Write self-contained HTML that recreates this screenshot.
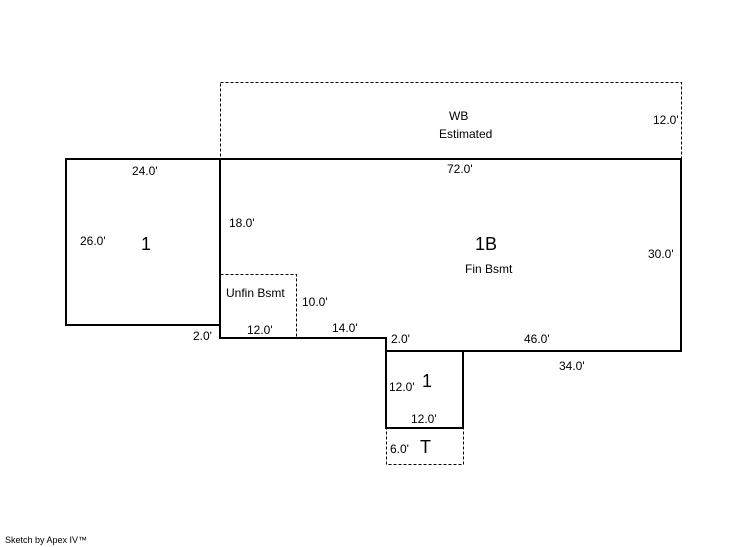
<!DOCTYPE html>
<html><head><style>
html,body{margin:0;padding:0;background:#fff;}
svg{display:block;}
text{font-family:"Liberation Sans",Arial,sans-serif;fill:#000;}
.s{font-size:12px;}
.b{font-size:18px;}
</style></head><body>
<svg width="746" height="547" viewBox="0 0 746 547" xmlns="http://www.w3.org/2000/svg">
<g fill="none" stroke="#000" stroke-width="1" stroke-dasharray="3,2">
<rect x="220.5" y="82.5" width="461" height="76"/>
<rect x="220.5" y="274.5" width="76" height="64"/>
<rect x="386.5" y="428.5" width="77" height="36"/>
</g>
<g fill="none" stroke="#000" stroke-width="2">
<rect x="66" y="159" width="154" height="166"/>
<polyline points="220,159 681,159 681,351 386,351 386,338 220,338 220,159"/>
<rect x="386" y="351" width="77" height="77"/>
</g>
<text class="s" x="449" y="120">WB</text>
<text class="s" x="439" y="138">Estimated</text>
<text class="s" x="653" y="124">12.0'</text>
<text class="s" x="132" y="175">24.0'</text>
<text class="s" x="447" y="173">72.0'</text>
<text class="s" x="80" y="245">26.0'</text>
<text class="b" x="141" y="250">1</text>
<text class="s" x="229" y="227">18.0'</text>
<text class="b" x="475" y="250">1B</text>
<text class="s" x="465" y="273">Fin Bsmt</text>
<text class="s" x="648" y="258">30.0'</text>
<text class="s" x="226" y="297">Unfin Bsmt</text>
<text class="s" x="302" y="306">10.0'</text>
<text class="s" x="193" y="340">2.0'</text>
<text class="s" x="247" y="334">12.0'</text>
<text class="s" x="332" y="332">14.0'</text>
<text class="s" x="391" y="343">2.0'</text>
<text class="s" x="524" y="343">46.0'</text>
<text class="s" x="559" y="370">34.0'</text>
<text class="s" x="389" y="391">12.0'</text>
<text class="b" x="422" y="387">1</text>
<text class="s" x="411" y="423">12.0'</text>
<text class="s" x="390" y="453">6.0'</text>
<text class="b" x="420" y="453">T</text>
<text x="5" y="543" style="font-size:9px">Sketch by Apex IV™</text>
</svg>
</body></html>
